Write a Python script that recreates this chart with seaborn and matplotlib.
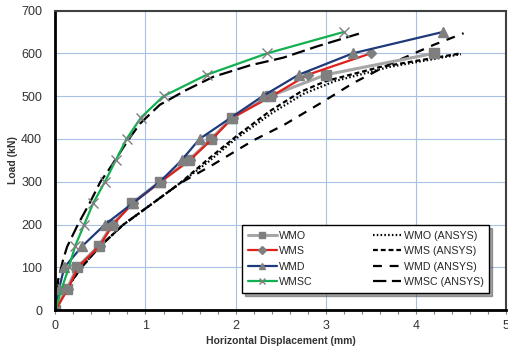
import matplotlib
matplotlib.use("Agg")
import matplotlib.pyplot as plt
from matplotlib.ticker import MultipleLocator
import seaborn as sns

# Load levels (kN)
load_wmo = [0, 50, 100, 150, 200, 250, 300, 350, 400, 450, 500, 550, 600]
load_wms = [0, 50, 100, 150, 200, 250, 300, 350, 400, 450, 500, 550, 600]
load_wmd = [0, 50, 100, 150, 200, 250, 300, 350, 400, 450, 500, 550, 600, 650]
load_wmsc = [0, 50, 100, 150, 200, 250, 300, 350, 400, 450, 500, 550, 600, 650]

# Measured horizontal displacement (mm)
disp_wmo = [0, 0.13, 0.24, 0.48, 0.63, 0.85, 1.16, 1.48, 1.73, 1.96, 2.38, 3.0, 4.2]
disp_wms = [0, 0.14, 0.25, 0.49, 0.64, 0.86, 1.17, 1.49, 1.74, 1.97, 2.4, 2.8, 3.5]
disp_wmd = [0, 0.04, 0.1, 0.3, 0.55, 0.86, 1.16, 1.4, 1.6, 1.95, 2.3, 2.7, 3.3, 4.3]
disp_wmsc = [0, 0.07, 0.15, 0.22, 0.32, 0.42, 0.55, 0.67, 0.79, 0.95, 1.2, 1.68, 2.35, 3.2]

# Finite element (ANSYS) predictions
fe_disp_wmo = [0, 0.16, 0.31, 0.49, 0.75, 1.05, 1.38, 1.7, 2.0, 2.4, 2.75, 3.1, 3.7, 4.5]
fe_load_wmo = [0, 62, 105, 148, 199, 245, 296, 347, 400, 460, 505, 535, 568, 598]
fe_disp_wms = [0, 0.16, 0.31, 0.49, 0.75, 1.05, 1.38, 1.68, 2.0, 2.38, 2.72, 3.0, 3.6, 4.5]
fe_load_wms = [0, 62, 105, 148, 199, 245, 296, 350, 405, 465, 510, 535, 568, 600]
fe_disp_wmd = [0, 0.16, 0.31, 0.49, 0.75, 1.05, 1.38, 1.75, 2.2, 2.53, 2.97, 3.3, 3.72, 4.2, 4.53]
fe_load_wmd = [0, 62, 105, 148, 199, 245, 296, 340, 397, 432, 487, 530, 576, 620, 647]
fe_disp_wmsc = [0, 0.03, 0.085, 0.13, 0.25, 0.38, 0.5, 0.6, 0.8, 0.94, 1.16, 1.45, 1.75, 2.16, 2.53, 2.9, 3.4]
fe_load_wmsc = [0, 70, 117, 148, 200, 250, 300, 330, 395, 436, 480, 514, 545, 572, 590, 616, 648]

x_ticks = [0, 1, 2, 3, 4, 5]
y_ticks = [0, 100, 200, 300, 400, 500, 600, 700]

sns.set_style("white")
plt.rcParams["font.family"] = ["Liberation Sans", "DejaVu Sans"]

fig = plt.figure(figsize=(5.08, 3.52), dpi=100)
ax = fig.add_axes([0.109, 0.119, 0.887, 0.851])

marker_grey = "#7F7F7F"
fe_lw = 1.6

# ANSYS curves (black, different dash patterns)
fe_series = [
    (fe_disp_wmo, fe_load_wmo, (0, (0.7, 1.0)), "WMO (ANSYS)"),
    (fe_disp_wms, fe_load_wms, (0, (2.2, 1.3)), "WMS (ANSYS)"),
    (fe_disp_wmd, fe_load_wmd, (0, (4.0, 3.5)), "WMD (ANSYS)"),
    (fe_disp_wmsc, fe_load_wmsc, (0, (6.0, 2.5)), "WMSC (ANSYS)"),
]
fe_handles = []
for xs, ys, ls, name in fe_series:
    sns.lineplot(x=xs, y=ys, ax=ax, color="black", linewidth=fe_lw,
                 linestyle=ls, sort=False, estimator=None, label=name)
    fe_handles.append(ax.get_lines()[-1])

# Experimental curves
exp_series = [
    (disp_wmo, load_wmo, "#A6A6A6", "s", "WMO", 2.2),
    (disp_wms, load_wms, "#E0201B", "D", "WMS", 1.6),
    (disp_wmd, load_wmd, "#1F3A7A", "^", "WMD", 1.6),
    (disp_wmsc, load_wmsc, "#12B050", "x", "WMSC", 1.6),
]
exp_handles = []
for xs, ys, col, mk, name, lw in exp_series:
    sns.lineplot(x=xs, y=ys, ax=ax, color=col, linewidth=lw, sort=False,
                 estimator=None, marker=mk, markersize=6.5 if mk != "D" else 5.5,
                 markerfacecolor=marker_grey, markeredgecolor=marker_grey,
                 markeredgewidth=1.0, label=name)
    exp_handles.append(ax.get_lines()[-1])

ax.set_xlim(0, 5)
ax.set_ylim(0, 700)
ax.set_xticks(x_ticks)
ax.set_yticks(y_ticks)
ax.xaxis.set_minor_locator(MultipleLocator(0.2))
ax.grid(True, which="major", color="#A9C0E4", linewidth=0.8)
ax.set_axisbelow(True)
ax.tick_params(axis="x", which="both", direction="out", bottom=True,
               length=3, width=0.8, color="#808080", labelsize=9,
               labelcolor="#333333", pad=4)
ax.tick_params(axis="y", which="both", left=False, labelsize=9,
               labelcolor="#333333", pad=6)
for side, sp in ax.spines.items():
    sp.set_visible(True)
    sp.set_color("black" if side in ("left", "bottom") else "#404040")
    sp.set_linewidth(2.0 if side in ("left", "bottom") else 1.5)

ax.set_xlabel("Horizontal Displacement (mm)", fontsize=7.5, fontweight="bold",
              color="#333333", labelpad=3)
ax.set_ylabel("Load (kN)", fontsize=7.5, fontweight="bold", color="#333333",
              labelpad=2)

ax.legend(handles=exp_handles + fe_handles, ncol=2, loc="lower right",
          bbox_to_anchor=(0.975, 0.04), fontsize=7.7, frameon=True,
          fancybox=False, shadow=True, edgecolor="black", framealpha=1,
          handlelength=2.7, handletextpad=0.2, columnspacing=5.6,
          borderpad=0.55, labelspacing=0.5, markerscale=0.7)
ax.get_legend().get_frame().set_linewidth(1.0)

fig.savefig("out.png", dpi=100)
